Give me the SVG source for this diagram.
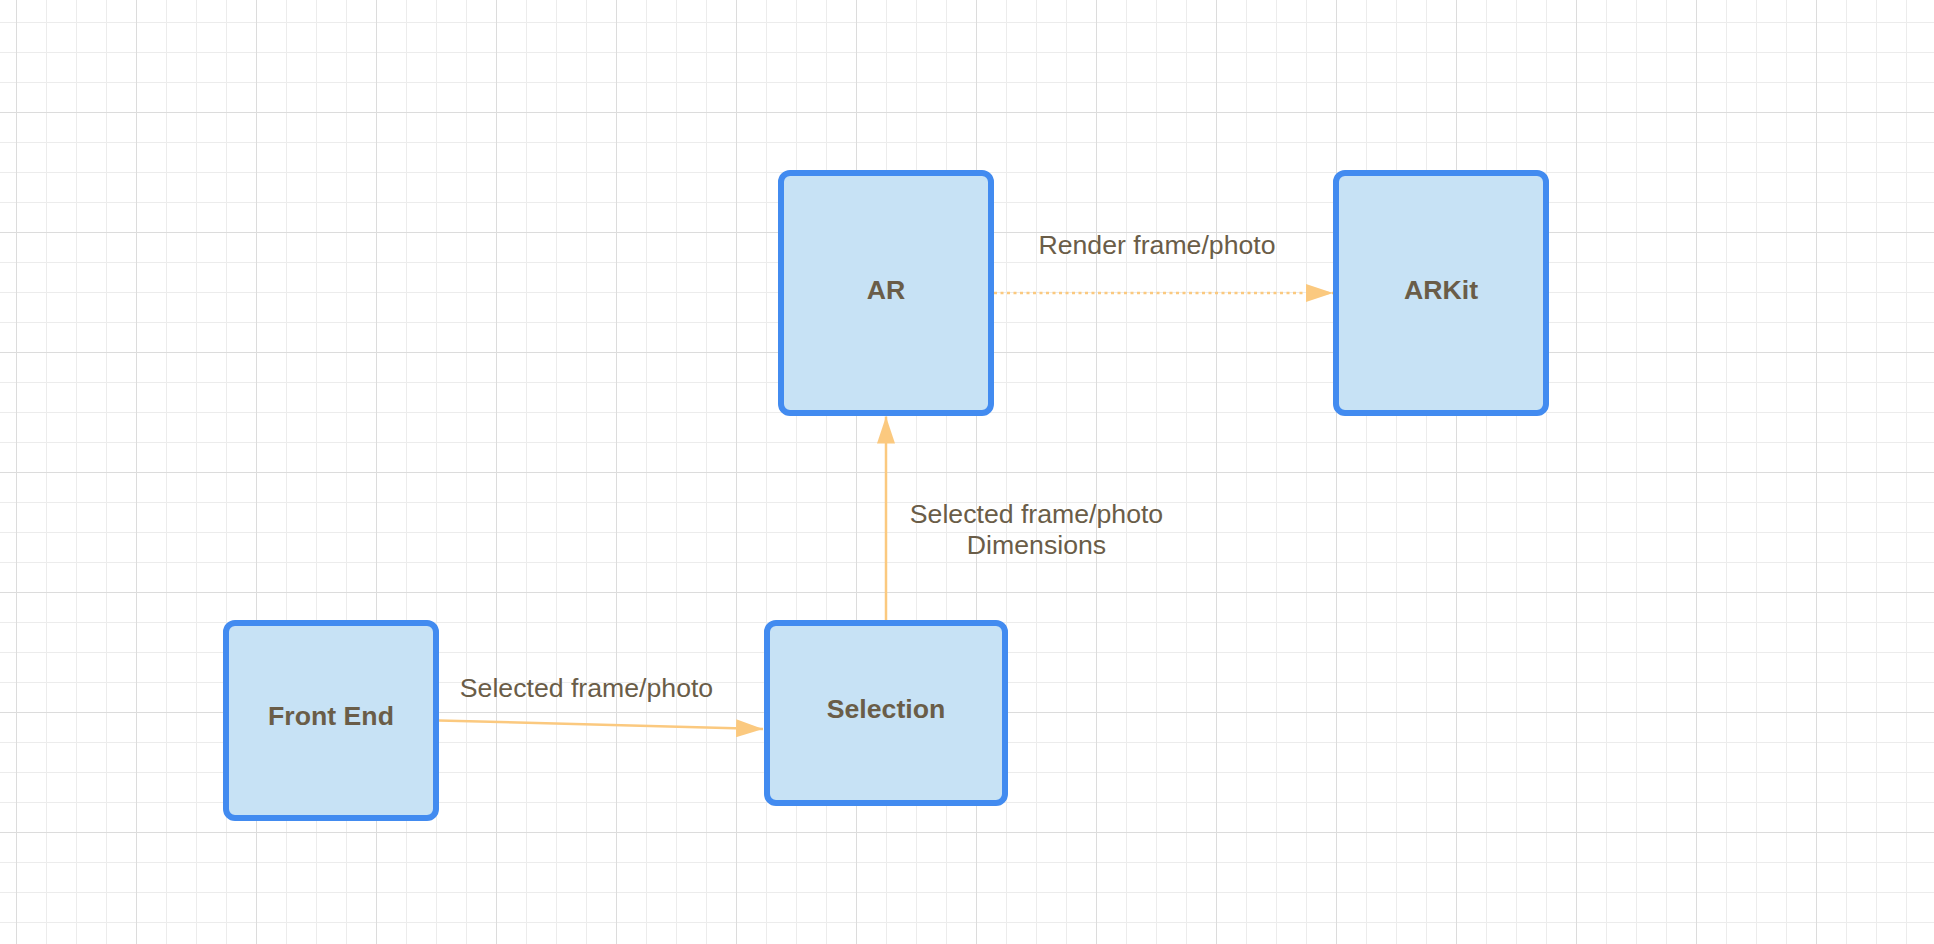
<svg xmlns="http://www.w3.org/2000/svg" width="1934" height="944" viewBox="0 0 1934 944">
<style>
.node rect{fill:#c7e2f5;stroke:#428bf0;stroke-width:6}
.node text{font-family:"Liberation Sans",Arial,sans-serif;font-weight:bold;font-size:26.67px;fill:#6a5d48;text-anchor:middle}
.lbl{font-family:"Liberation Sans",Arial,sans-serif;font-size:26.67px;fill:#6a5d48;text-anchor:middle}
.conn{fill:none;stroke:#fbc97f;stroke-width:2.5}
</style>
<defs>
<pattern id="grid" patternUnits="userSpaceOnUse" x="16" y="112" width="120" height="120">
<rect x="30" y="0" width="1" height="120" fill="#ececec"/>
<rect x="60" y="0" width="1" height="120" fill="#ececec"/>
<rect x="90" y="0" width="1" height="120" fill="#ececec"/>
<rect x="0" y="30" width="120" height="1" fill="#ececec"/>
<rect x="0" y="60" width="120" height="1" fill="#ececec"/>
<rect x="0" y="90" width="120" height="1" fill="#ececec"/>
<rect x="0" y="0" width="1" height="120" fill="#dcdcdc"/>
<rect x="0" y="0" width="120" height="1" fill="#dcdcdc"/>
</pattern>
<marker id="arrow" markerUnits="userSpaceOnUse" viewBox="0 0 27 18" refX="27" refY="9" markerWidth="27" markerHeight="18" orient="auto">
<path d="M0,0 L27,9 L0,18 Z" fill="#fbc97f"/>
</marker>
</defs>
<rect x="0" y="0" width="1934" height="944" fill="#ffffff"/>
<rect x="0" y="0" width="1934" height="944" fill="url(#grid)"/>
<g id="connectors">
<line class="conn" x1="439" y1="720.5" x2="763" y2="729" marker-end="url(#arrow)"/>
<line class="conn" x1="886" y1="620" x2="886" y2="416.5" marker-end="url(#arrow)"/>
<line class="conn" x1="994" y1="293" x2="1333" y2="293" stroke-dasharray="3 3.5" marker-end="url(#arrow)"/>
<text class="lbl" x="586.5" y="696.5">Selected frame/photo</text>
<text class="lbl" x="1036.5" y="522.5">Selected frame/photo</text>
<text class="lbl" x="1036.5" y="554">Dimensions</text>
<text class="lbl" x="1157" y="254">Render frame/photo</text>
</g>
<g id="node-ar" class="node">
<rect x="781" y="173" width="210" height="240" rx="9"/>
<text x="886" y="299">AR</text>
</g>
<g id="node-arkit" class="node">
<rect x="1336" y="173" width="210" height="240" rx="9"/>
<text x="1441" y="299">ARKit</text>
</g>
<g id="node-frontend" class="node">
<rect x="226" y="623" width="210" height="195" rx="9"/>
<text x="331" y="725">Front End</text>
</g>
<g id="node-selection" class="node">
<rect x="767" y="623" width="238" height="180" rx="9"/>
<text x="886" y="718">Selection</text>
</g>
</svg>
